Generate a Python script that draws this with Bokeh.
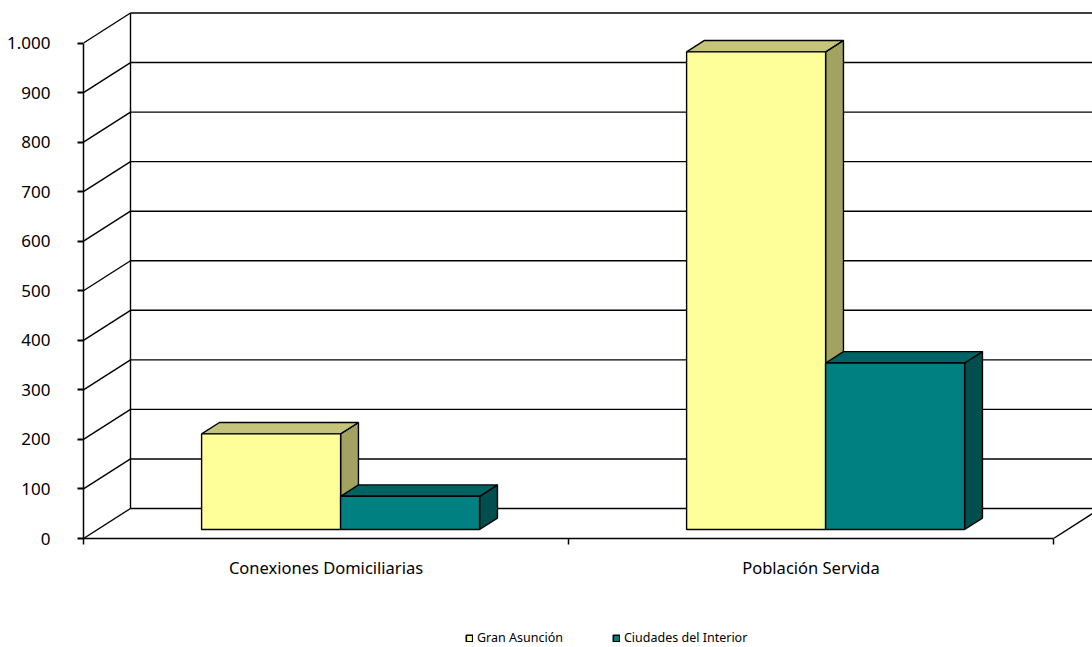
from bokeh.plotting import figure
from bokeh.layouts import column
from bokeh.models import Range1d, LinearAxis, FixedTicker, Legend, LegendItem
from bokeh.embed import file_html
from bokeh.resources import INLINE

# ---- data ----
categories = ["Conexiones Domiciliarias", "Población Servida"]
series_names = ["Gran Asunción", "Ciudades del Interior"]
gran_asuncion = [193, 964]
ciudades_interior = [67, 336]
y_ticks = [0, 100, 200, 300, 400, 500, 600, 700, 800, 900, 1000]
y_tick_labels = ["0", "100", "200", "300", "400", "500", "600", "700", "800", "900", "1.000"]

# ---- style ----
front_colors = ["#FFFF99", "#008080"]
top_colors = ["#C4C47A", "#006262"]
side_colors = ["#A3A361", "#004E4E"]
FONT = "Noto Sans"

# ---- geometry (3D projection in data units) ----
W, H_MAIN, H_LEG = 1092, 600, 47
LEFT, BOTTOM = 83, 62
PX_X = 485.0          # px per category
PX_V = 0.4955         # px per value unit
FRAME_W = W - LEFT
FRAME_H = H_MAIN - BOTTOM
DX = 47.0 / PX_X      # depth offset in x units
DY = 30.0 / PX_V      # depth offset in value units
GAP = 104.0 / PX_X
BAR_W = 139.0 / PX_X
D0, D1 = 0.30, 0.68

p = figure(width=W, height=H_MAIN, output_backend="svg", toolbar_location=None,
           x_range=Range1d(0, FRAME_W / PX_X), y_range=Range1d(0, FRAME_H / PX_V),
           x_axis_location=None, y_axis_location=None,
           min_border_left=LEFT, min_border_right=0, min_border_top=0, min_border_bottom=BOTTOM)
p.outline_line_color = None
p.xgrid.visible = False
p.ygrid.visible = False
p.background_fill_color = "white"
p.border_fill_color = "white"

ncat = len(categories)
LW = 1.4

# back wall gridlines
p.segment(x0=[DX] * len(y_ticks), y0=[v + DY for v in y_ticks],
          x1=[ncat + DX + 0.2] * len(y_ticks), y1=[v + DY for v in y_ticks],
          line_color="black", line_width=LW)
# side wall diagonals
p.segment(x0=[0] * len(y_ticks), y0=y_ticks,
          x1=[DX] * len(y_ticks), y1=[v + DY for v in y_ticks],
          line_color="black", line_width=LW)
# back wall left edge
p.segment(x0=[DX], y0=[DY], x1=[DX], y1=[y_ticks[-1] + DY], line_color="black", line_width=LW)
# floor right edge
p.segment(x0=[ncat], y0=[0], x1=[ncat + DX], y1=[DY], line_color="black", line_width=LW)

series_vals = [gran_asuncion, ciudades_interior]
for j, vals in enumerate(series_vals):
    lefts, rights, bottoms, tops = [], [], [], []
    top_xs, top_ys, side_xs, side_ys = [], [], [], []
    for i, v in enumerate(vals):
        xl = i + GAP + j * BAR_W
        xr = xl + BAR_W
        lefts.append(xl + D0 * DX)
        rights.append(xr + D0 * DX)
        bottoms.append(D0 * DY)
        tops.append(v + D0 * DY)
        top_xs.append([xl + D0 * DX, xr + D0 * DX, xr + D1 * DX, xl + D1 * DX])
        top_ys.append([v + D0 * DY, v + D0 * DY, v + D1 * DY, v + D1 * DY])
        side_xs.append([xr + D0 * DX, xr + D1 * DX, xr + D1 * DX, xr + D0 * DX])
        side_ys.append([D0 * DY, D1 * DY, v + D1 * DY, v + D0 * DY])
    p.patches(xs=side_xs, ys=side_ys, fill_color=side_colors[j], line_color="black", line_width=LW)
    p.patches(xs=top_xs, ys=top_ys, fill_color=top_colors[j], line_color="black", line_width=LW)
    p.quad(left=lefts, right=rights, bottom=bottoms, top=tops,
           fill_color=front_colors[j], line_color="black", line_width=LW)

# y axis
yax = LinearAxis(ticker=FixedTicker(ticks=y_ticks),
                 major_label_overrides={t: l for t, l in zip(y_ticks, y_tick_labels)})
yax.bounds = (0, y_ticks[-1])
yax.axis_line_color = "black"
yax.axis_line_width = 1.5
yax.major_tick_out = 6
yax.major_tick_in = 0
yax.major_tick_line_width = 2
yax.minor_tick_line_color = None
yax.major_label_standoff = 27
yax.major_label_text_font = FONT
yax.major_label_text_font_size = "17px"
yax.major_label_text_color = "black"
p.add_layout(yax, "left")

# x axis
cat_centers = [i + 0.5 for i in range(ncat)]
xax = LinearAxis(ticker=FixedTicker(ticks=cat_centers, minor_ticks=list(range(ncat + 1))),
                 major_label_overrides={c: n for c, n in zip(cat_centers, categories)})
xax.bounds = (0, ncat)
xax.axis_line_color = "black"
xax.axis_line_width = 1.5
xax.major_tick_out = 0
xax.major_tick_in = 0
xax.major_tick_line_color = None
xax.minor_tick_out = 6
xax.minor_tick_in = 0
xax.minor_tick_line_color = "black"
xax.minor_tick_line_width = 1.5
xax.major_label_standoff = 11
xax.major_label_text_font = FONT
xax.major_label_text_font_size = "16.5px"
xax.major_label_text_color = "black"
p.add_layout(xax, "below")

# ---- legend strip ----
pl = figure(width=W, height=H_LEG, output_backend="svg", toolbar_location=None,
            x_range=Range1d(0, W), y_range=Range1d(0, H_LEG),
            x_axis_location=None, y_axis_location=None,
            min_border_left=0, min_border_right=0, min_border_top=0, min_border_bottom=0)
pl.outline_line_color = None
pl.xgrid.visible = False
pl.ygrid.visible = False
leg_renderers = [pl.quad(left=[-20], right=[-10], bottom=[-20], top=[-10],
                         fill_color=c, line_color="black", line_width=1.6)
                 for c in front_colors]
legend = Legend(items=[LegendItem(label=n, renderers=[r]) for n, r in zip(series_names, leg_renderers)],
                orientation="horizontal", location=(382, 1))
legend.border_line_color = None
legend.background_fill_alpha = 0
legend.padding = 0
legend.margin = 0
legend.spacing = 49
legend.glyph_width = 8
legend.glyph_height = 8
legend.label_height = 14
legend.label_standoff = 4
legend.label_text_font = FONT
legend.label_text_font_size = "12.5px"
legend.label_text_color = "black"
pl.add_layout(legend, "center")

layout = column(p, pl, spacing=0)
open("out.html", "w").write(file_html(layout, INLINE))
